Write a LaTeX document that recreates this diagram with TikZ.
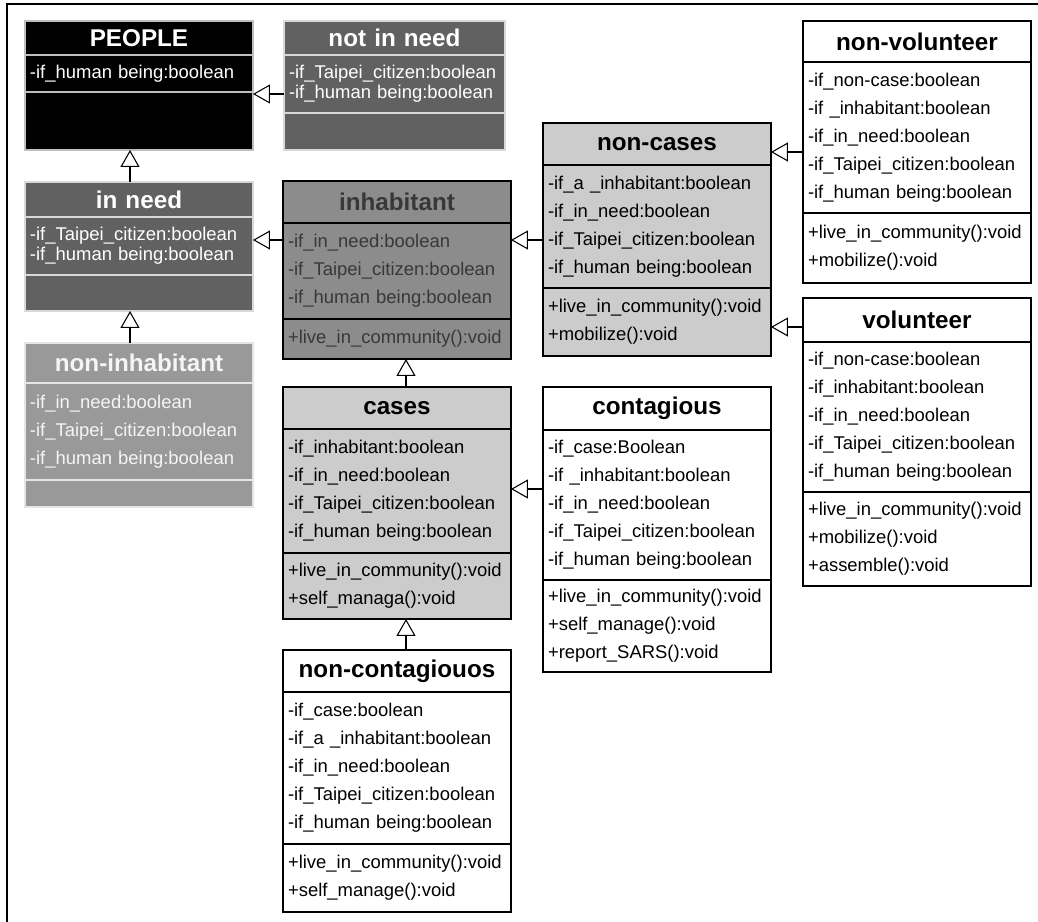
\documentclass[tikz,border=0pt]{standalone}
\usepackage{fontspec}
\setmainfont{Liberation Sans}
\usetikzlibrary{arrows.meta,positioning}

\begin{document}
\begin{tikzpicture}[
  x=0.02cm, y=-0.02cm,
  node distance=0pt,
  box/.style={draw, rectangle, outer sep=0pt, inner xsep=0.1cm, inner ysep=0pt,
    text width=4.36cm, line width=0.8pt},
  head/.style={box, align=center, font=\bfseries\fontsize{13.8}{16}\selectfont},
  body/.style={box, align=left, font=\fontsize{10.5}{15.9}\selectfont},
  tight/.style={font=\fontsize{10.5}{11.6}\selectfont},
  blackcls/.style={fill=black, text=white, draw=black!25},
  darkcls/.style={fill=black!62, text=white, draw=white!85!black},
  midcls/.style={fill=black!40, text=black!4, draw=white!90!black},
  greycls/.style={fill=black!45, text=black!78, draw=black},
  lightcls/.style={fill=black!20, text=black, draw=black},
  whitecls/.style={fill=white, text=black, draw=black},
  inh/.style={-{Triangle[open, length=0.34cm, width=0.38cm]}, line width=0.6pt}
]
\useasboundingbox (0,0) rectangle (1038,922);
\draw[line width=0.05cm] (7,922) -- (7,4) -- (1038,4);

% left column
\node[head, blackcls, minimum height=0.68cm, anchor=north west] (people) at (25,21) {PEOPLE};
\node[body, tight, blackcls, minimum height=0.74cm, below=of people] (people-a) {-if\_human being:boolean};
\node[body, blackcls, minimum height=1.16cm, below=of people-a] (people-m) {};

\node[head, darkcls, text width=4.22cm, minimum height=0.68cm, anchor=north west] (notneed) at (284,21) {not in need};
\node[body, tight, darkcls, text width=4.22cm, minimum height=1.16cm, below=of notneed] (notneed-a) {-if\_Taipei\_citizen:boolean\\-if\_human being:boolean};
\node[body, darkcls, text width=4.22cm, minimum height=0.74cm, below=of notneed-a] (notneed-m) {};

\node[head, darkcls, minimum height=0.70cm, anchor=north west] (inneed) at (25,182) {in need};
\node[body, tight, darkcls, minimum height=1.16cm, below=of inneed] (inneed-a) {-if\_Taipei\_citizen:boolean\\-if\_human being:boolean};
\node[body, darkcls, minimum height=0.72cm, below=of inneed-a] (inneed-m) {};

\node[head, midcls, minimum height=0.80cm, anchor=north west] (noninhab) at (25,343) {non-inhabitant};
\node[body, midcls, minimum height=1.94cm, below=of noninhab] (noninhab-a) {-if\_in\_need:boolean\\-if\_Taipei\_citizen:boolean\\-if\_human being:boolean};
\node[body, midcls, minimum height=0.54cm, below=of noninhab-a] (noninhab-m) {};

% middle column
\node[head, greycls, minimum height=0.84cm, anchor=north west] (inhab) at (283,181) {inhabitant};
\node[body, greycls, minimum height=1.92cm, below=of inhab] (inhab-a) {-if\_in\_need:boolean\\-if\_Taipei\_citizen:boolean\\-if\_human being:boolean};
\node[body, greycls, minimum height=0.80cm, below=of inhab-a] (inhab-m) {+live\_in\_community():void};

\node[head, lightcls, minimum height=0.84cm, anchor=north west] (cases) at (283,387) {cases};
\node[body, lightcls, minimum height=2.48cm, below=of cases] (cases-a) {-if\_inhabitant:boolean\\-if\_in\_need:boolean\\-if\_Taipei\_citizen:boolean\\-if\_human being:boolean};
\node[body, lightcls, minimum height=1.32cm, below=of cases-a] (cases-m) {+live\_in\_community():void\\+self\_managa():void};

\node[head, whitecls, minimum height=0.84cm, anchor=north west] (noncontag) at (283,650) {non-contagiouos};
\node[body, whitecls, minimum height=3.04cm, below=of noncontag] (noncontag-a) {-if\_case:boolean\\-if\_a \_inhabitant:boolean\\-if\_in\_need:boolean\\-if\_Taipei\_citizen:boolean\\-if\_human being:boolean};
\node[body, whitecls, minimum height=1.36cm, below=of noncontag-a] (noncontag-m) {+live\_in\_community():void\\+self\_manage():void};

\node[head, lightcls, minimum height=0.84cm, anchor=north west] (noncases) at (543,123) {non-cases};
\node[body, lightcls, minimum height=2.46cm, below=of noncases] (noncases-a) {-if\_a \_inhabitant:boolean\\-if\_in\_need:boolean\\-if\_Taipei\_citizen:boolean\\-if\_human being:boolean};
\node[body, lightcls, minimum height=1.36cm, below=of noncases-a] (noncases-m) {+live\_in\_community():void\\+mobilize():void};

\node[head, whitecls, minimum height=0.86cm, anchor=north west] (contag) at (543,387) {contagious};
\node[body, whitecls, minimum height=3.00cm, below=of contag] (contag-a) {-if\_case:Boolean\\-if \_inhabitant:boolean\\-if\_in\_need:boolean\\-if\_Taipei\_citizen:boolean\\-if\_human being:boolean};
\node[body, whitecls, minimum height=1.84cm, below=of contag-a] (contag-m) {+live\_in\_community():void\\+self\_manage():void\\+report\_SARS():void};

% right column
\node[head, whitecls, minimum height=0.82cm, anchor=north west] (nonvol) at (803,21) {non-volunteer};
\node[body, whitecls, minimum height=3.02cm, below=of nonvol] (nonvol-a) {-if\_non-case:boolean\\-if \_inhabitant:boolean\\-if\_in\_need:boolean\\-if\_Taipei\_citizen:boolean\\-if\_human being:boolean};
\node[body, whitecls, minimum height=1.40cm, below=of nonvol-a] (nonvol-m) {+live\_in\_community():void\\+mobilize():void};

\node[head, whitecls, minimum height=0.88cm, anchor=north west] (vol) at (803,298) {volunteer};
\node[body, whitecls, minimum height=3.00cm, below=of vol] (vol-a) {-if\_non-case:boolean\\-if\_inhabitant:boolean\\-if\_in\_need:boolean\\-if\_Taipei\_citizen:boolean\\-if\_human being:boolean};
\node[body, whitecls, minimum height=1.88cm, below=of vol-a] (vol-m) {+live\_in\_community():void\\+mobilize():void\\+assemble():void};

% generalisations
\draw[inh] (notneed-a.west |- 0,94) -- (people-m.east |- 0,94);
\draw[inh] (inneed.north -| 130,0) -- (people-m.south -| 130,0);
\draw[inh] (noninhab.north -| 130,0) -- (inneed-m.south -| 130,0);
\draw[inh] (inhab-a.west |- 0,240) -- (inneed-a.east |- 0,240);
\draw[inh] (noncases-a.west |- 0,240) -- (inhab-a.east |- 0,240);
\draw[inh] (cases.north -| 406,0) -- (inhab-m.south -| 406,0);
\draw[inh] (noncontag.north -| 406,0) -- (cases-m.south -| 406,0);
\draw[inh] (contag-a.west |- 0,489) -- (cases-a.east |- 0,489);
\draw[inh] (nonvol.west |- 0,152) -- (noncases.east |- 0,152);
\draw[inh] (vol.west |- 0,327) -- (noncases-m.east |- 0,327);
\end{tikzpicture}
\end{document}
